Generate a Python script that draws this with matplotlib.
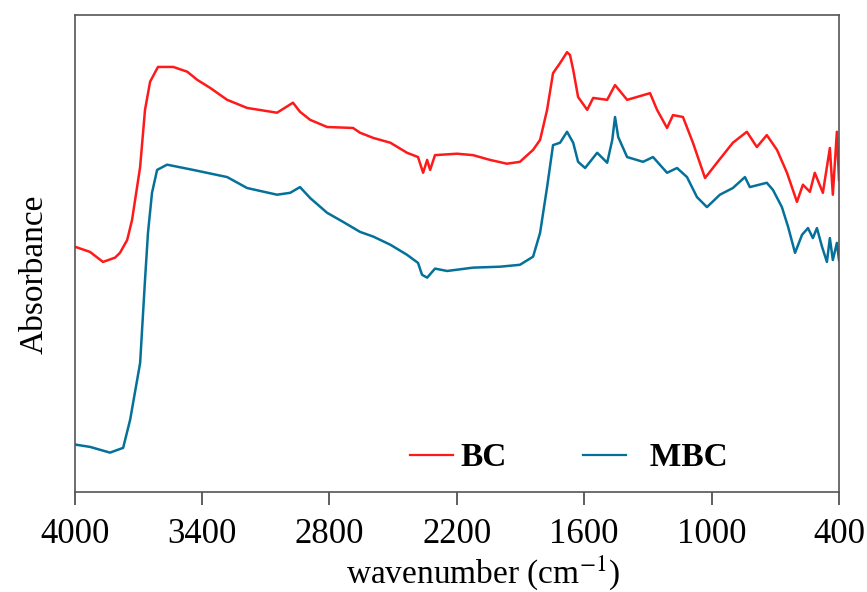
import matplotlib
matplotlib.use("Agg")
import matplotlib.pyplot as plt

# FTIR spectra (arbitrary absorbance units)
wn_bc = [4000, 3928, 3867, 3810, 3787, 3753, 3730, 3692, 3669, 3645, 3608, 3536,
         3470, 3423, 3362, 3282, 3188, 3047, 2972, 2939, 2891, 2811, 2689, 2656,
         2593, 2513, 2435, 2383, 2359, 2340, 2326, 2303, 2199, 2124, 2044, 1964,
         1903, 1841, 1808, 1775, 1747, 1714, 1681, 1667, 1652, 1629, 1586, 1558,
         1492, 1455, 1398, 1290, 1257, 1210, 1182, 1135, 1088, 1031, 975, 900,
         834, 787, 740, 692, 645, 598, 570, 537, 514, 476, 443, 429, 410, 400]
abs_bc = [0.514, 0.503, 0.482, 0.491, 0.501, 0.528, 0.570, 0.681, 0.801, 0.860,
          0.891, 0.891, 0.881, 0.864, 0.847, 0.822, 0.805, 0.795, 0.816, 0.797,
          0.780, 0.765, 0.763, 0.753, 0.742, 0.732, 0.711, 0.702, 0.669, 0.696,
          0.675, 0.706, 0.709, 0.706, 0.696, 0.688, 0.692, 0.717, 0.738, 0.801,
          0.878, 0.899, 0.922, 0.916, 0.885, 0.828, 0.801, 0.826, 0.822, 0.853,
          0.822, 0.836, 0.801, 0.763, 0.790, 0.786, 0.732, 0.658, 0.690, 0.732,
          0.755, 0.723, 0.748, 0.717, 0.669, 0.608, 0.644, 0.629, 0.669, 0.627,
          0.721, 0.623, 0.755, 0.654]

wn_mbc = [4000, 3928, 3834, 3772, 3739, 3692, 3669, 3655, 3636, 3612, 3565, 3442,
          3282, 3188, 3047, 2985, 2939, 2891, 2811, 2736, 2656, 2593, 2513, 2435,
          2383, 2364, 2340, 2303, 2246, 2124, 1996, 1903, 1841, 1808, 1775, 1747,
          1714, 1681, 1652, 1629, 1596, 1539, 1492, 1468, 1455, 1440, 1398, 1323,
          1276, 1210, 1163, 1116, 1069, 1022, 961, 900, 843, 820, 740, 711, 669,
          640, 607, 574, 546, 523, 504, 480, 457, 443, 429, 410, 400]
abs_mbc = [0.099, 0.094, 0.082, 0.092, 0.151, 0.270, 0.444, 0.543, 0.627, 0.675,
           0.686, 0.675, 0.660, 0.637, 0.623, 0.627, 0.639, 0.616, 0.585, 0.566,
           0.545, 0.535, 0.518, 0.497, 0.480, 0.455, 0.449, 0.468, 0.463, 0.470,
           0.472, 0.476, 0.493, 0.543, 0.639, 0.727, 0.732, 0.755, 0.732, 0.692,
           0.679, 0.711, 0.690, 0.738, 0.786, 0.744, 0.702, 0.692, 0.702, 0.669,
           0.679, 0.660, 0.618, 0.597, 0.623, 0.637, 0.660, 0.639, 0.648, 0.633,
           0.597, 0.556, 0.501, 0.539, 0.553, 0.532, 0.553, 0.514, 0.482, 0.532,
           0.486, 0.522, 0.486]

xticks = [4000, 3400, 2800, 2200, 1600, 1000, 400]

plt.rcParams['font.family'] = ['Liberation Serif', 'DejaVu Serif']
plt.rcParams['mathtext.fontset'] = 'stix'

fig = plt.figure(figsize=(8.67, 5.92), dpi=100)
ax = fig.add_axes([0.0862, 0.1694, 0.8815, 0.8053])

ax.plot(wn_bc, abs_bc, color='#ff1a1a', lw=1.8, label='BC')
ax.plot(wn_mbc, abs_mbc, color='#05719a', lw=1.8, label='  MBC')

ax.set_xlim(4000, 400)
ax.set_ylim(0, 1)
ax.set_xticks(xticks)
ax.set_xticklabels([str(t) for t in xticks])
ax.set_yticks([])
ax.tick_params(axis='x', direction='out', length=9, width=1.2, color='#444444',
               labelsize=25, pad=10)
for s in ax.spines.values():
    s.set_color('#555555')
    s.set_linewidth(1.2)

ax.set_xlabel('wavenumber (cm$^{-1}$)', fontsize=24, labelpad=1.5)
ax.xaxis.label.set_x(0.534)
ax.set_ylabel('Absorbance', fontsize=24, labelpad=18)
ax.yaxis.label.set_y(0.455)

leg = ax.legend(loc='center left', bbox_to_anchor=(410 / 867, 1 - 458 / 592),
                bbox_transform=fig.transFigure, ncol=2, frameon=False,
                borderpad=0, borderaxespad=0, handlelength=1.3,
                handletextpad=0.21, columnspacing=2.28,
                prop={'family': 'Liberation Serif', 'weight': 'bold', 'size': 24})
for h in leg.get_lines():
    h.set_linewidth(1.6)

fig.savefig('out.png', dpi=100)
